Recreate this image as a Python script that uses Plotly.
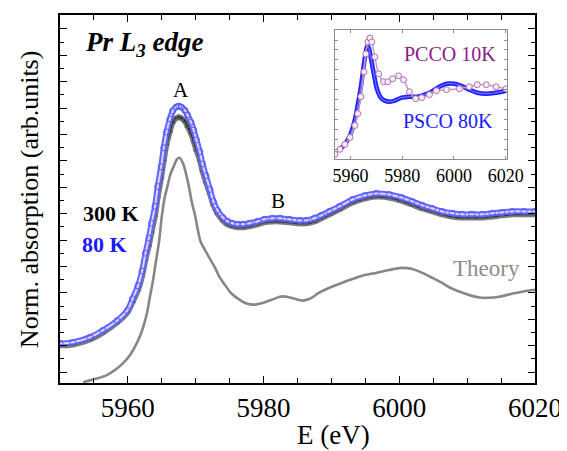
import plotly.graph_objects as go

# ---- main panel data (Pr L3 edge XANES) ----
E_exp = [5950, 5951.9, 5954.4, 5956.3, 5958.4, 5959.9, 5960.7, 5961.5, 5962.1, 5962.6,
         5963.1, 5963.5, 5964.0, 5964.4, 5964.9, 5965.3, 5965.7, 5966.2, 5966.6, 5967.1,
         5967.5, 5967.9, 5968.4, 5968.8, 5969.3, 5969.7, 5970.1, 5970.6, 5971.0, 5971.5,
         5972.1, 5972.6, 5973.2, 5974.0, 5974.7, 5975.4, 5976.2, 5976.9, 5977.9, 5979.1,
         5980.1, 5981.3, 5982.4, 5983.8, 5985.3, 5986.3, 5987.5, 5988.5, 5989.7, 5991.2,
         5993.1, 5994.9, 5996.6, 5998.5, 6000.3, 6001.9, 6003.4, 6004.9, 6006.3, 6007.8,
         6009.3, 6010.7, 6012.2, 6013.7, 6015.1, 6016.6, 6018.4, 6020]
abs_80K = [1.09, 1.13, 1.32, 1.58, 1.95, 2.33, 2.78, 3.27, 3.83, 4.51,
           5.08, 5.64, 6.28, 7.03, 7.78, 8.50, 9.10, 9.59, 9.89, 10.04,
           10.08, 10.04, 9.92, 9.74, 9.47, 9.17, 8.80, 8.35, 7.89, 7.44,
           6.92, 6.47, 6.13, 5.86, 5.71, 5.64, 5.60, 5.60, 5.64, 5.71,
           5.79, 5.83, 5.83, 5.79, 5.75, 5.75, 5.83, 5.94, 6.09, 6.28,
           6.54, 6.69, 6.77, 6.73, 6.62, 6.47, 6.32, 6.20, 6.09, 6.02,
           5.98, 5.98, 5.98, 6.02, 6.05, 6.09, 6.09, 6.09]
abs_300K = [1.02, 1.05, 1.24, 1.50, 1.88, 2.26, 2.67, 3.12, 3.65, 4.29,
            4.81, 5.34, 5.94, 6.65, 7.37, 8.05, 8.65, 9.14, 9.47, 9.62,
            9.66, 9.62, 9.51, 9.32, 9.06, 8.76, 8.42, 8.05, 7.63, 7.22,
            6.77, 6.35, 6.02, 5.75, 5.60, 5.53, 5.49, 5.49, 5.53, 5.60,
            5.68, 5.71, 5.71, 5.68, 5.64, 5.64, 5.71, 5.83, 5.98, 6.17,
            6.43, 6.58, 6.65, 6.62, 6.50, 6.35, 6.20, 6.09, 5.98, 5.90,
            5.86, 5.86, 5.86, 5.90, 5.94, 5.98, 5.98, 5.98]

E_theory = [5953.4, 5955.1, 5956.9, 5958.1, 5959.3, 5960.3, 5961.3, 5962.1, 5962.8, 5963.2,
            5963.7, 5964.1, 5964.6, 5965.0, 5965.4, 5965.9, 5966.3, 5966.8, 5967.2, 5967.6,
            5968.1, 5968.5, 5969.0, 5969.4, 5969.9, 5970.3, 5970.7, 5971.3, 5972.1, 5972.8,
            5973.5, 5974.4, 5975.3, 5976.5, 5977.6, 5978.8, 5980.0, 5981.2, 5982.4, 5983.4,
            5984.6, 5985.7, 5986.8, 5988.2, 5989.7, 5991.2, 5993.1, 5994.9, 5996.6, 5998.5,
            6000.3, 6001.9, 6003.4, 6004.9, 6006.3, 6007.8, 6009.3, 6010.7, 6012.1, 6013.2,
            6014.7, 6016.6, 6018.1, 6020]
abs_theory = [-0.38, -0.26, -0.11, 0.08, 0.34, 0.64, 1.09, 1.58, 2.22, 2.78,
              3.46, 4.14, 4.96, 5.90, 6.58, 7.11, 7.52, 7.82, 8.05, 8.12,
              7.93, 7.59, 7.03, 6.47, 5.94, 5.41, 4.96, 4.66, 4.29, 3.98,
              3.61, 3.27, 2.97, 2.74, 2.59, 2.56, 2.63, 2.74, 2.86, 2.86,
              2.78, 2.71, 2.78, 3.01, 3.20, 3.35, 3.53, 3.68, 3.76, 3.87,
              3.95, 3.91, 3.76, 3.57, 3.38, 3.16, 3.01, 2.89, 2.82, 2.82,
              2.86, 2.97, 3.05, 3.12]

# ---- inset data ----
E_pcco = [5954.0, 5955.9, 5957.8, 5959.8, 5961.7, 5962.8, 5964.0, 5965.2, 5965.9, 5966.7,
          5967.5, 5968.2, 5969.4, 5970.9, 5972.8, 5974.4, 5976.3, 5978.6, 5980.5, 5982.8,
          5985.2, 5987.5, 5990.5, 5993.2, 5997.1, 6002.1, 6005.9, 6009.0, 6012.5, 6016.3, 6020.2]
abs_pcco = [0.5, 1.0, 1.5, 2.2, 3.4, 4.6, 6.3, 8.8, 10.6, 11.8,
            12.2, 11.8, 10.3, 8.6, 7.8, 7.8, 8.1, 8.4, 8.0, 6.8,
            6.1, 6.2, 6.5, 6.9, 7.0, 7.1, 7.3, 7.5, 7.5, 7.3, 7.1]
E_psco = [5955.9, 5957.8, 5959.8, 5961.7, 5962.8, 5964.0, 5965.2, 5965.9, 5966.5, 5967.1,
          5967.8, 5969.0, 5970.2, 5971.7, 5973.2, 5975.2, 5977.1, 5979.8, 5982.8, 5985.9,
          5988.6, 5991.3, 5994.4, 5997.1, 6000.2, 6002.8, 6005.9, 6009.0, 6012.5, 6016.3, 6020.2]
abs_psco = [1.0, 1.5, 2.4, 4.0, 5.5, 7.3, 9.6, 10.8, 11.4, 11.2,
            10.3, 8.6, 7.1, 6.2, 5.9, 5.8, 5.9, 6.2, 6.3, 6.3,
            6.5, 6.8, 7.3, 7.6, 7.6, 7.4, 7.0, 6.7, 6.6, 6.7, 6.9]

x_ticks_main = [5960, 5980, 6000, 6020]
x_ticks_inset = [5960, 5980, 6000, 6020]

SERIF = "Liberation Serif, Times New Roman, Times, serif"
BLUE = "#1a1aff"

fig = go.Figure()

# 300 K (dark, under the blue)
fig.add_trace(go.Scatter(x=E_exp, y=abs_300K, mode="lines", line=dict(color="#7a7a7a", width=6, shape="spline"),
                         hoverinfo="skip", showlegend=False))
fig.add_trace(go.Scatter(x=E_exp, y=abs_300K, mode="lines+markers", line=dict(color="#2a2a2a", width=2, shape="spline"),
                         marker=dict(symbol="triangle-up", size=5, color="#333333", line=dict(color="#777777", width=0.5)),
                         showlegend=False))
# 80 K (blue open circles)
fig.add_trace(go.Scatter(x=E_exp, y=abs_80K, mode="lines", line=dict(color="#6464ff", width=6, shape="spline"),
                         hoverinfo="skip", showlegend=False))
fig.add_trace(go.Scatter(x=E_exp, y=abs_80K, mode="lines", line=dict(color="#d6d6ff", width=2, shape="spline"),
                         hoverinfo="skip", showlegend=False))
fig.add_trace(go.Scatter(x=E_exp, y=abs_80K, mode="markers",
                         marker=dict(symbol="circle-open", size=6, color="#5a5aff", line=dict(width=1)),
                         showlegend=False))
# Theory
fig.add_trace(go.Scatter(x=E_theory, y=abs_theory, mode="lines", line=dict(color="#878787", width=2.6, shape="spline"),
                         showlegend=False))

# Inset
fig.add_trace(go.Scatter(x=E_psco, y=abs_psco, xaxis="x2", yaxis="y2", mode="lines",
                         line=dict(color="#2020ff", width=4.5, shape="spline"), showlegend=False))
fig.add_trace(go.Scatter(x=E_psco, y=abs_psco, xaxis="x2", yaxis="y2", mode="lines",
                         line=dict(color="#7070ff", width=1.2, shape="spline"), showlegend=False))
fig.add_trace(go.Scatter(x=E_pcco, y=abs_pcco, xaxis="x2", yaxis="y2", mode="lines+markers",
                         line=dict(color="#c898c8", width=1.5, shape="spline"),
                         marker=dict(symbol="circle", size=6, color="#f6ecf6", line=dict(color="#b070b0", width=1)),
                         showlegend=False))

axis_common = dict(showgrid=False, zeroline=False, showline=True, linecolor="black", linewidth=1.8,
                   mirror="ticks", ticks="inside", tickcolor="black", tickwidth=1.3)

# page body adds an 8px margin; figure sized/offset to compensate
fig.update_layout(
    width=559, height=443,
    margin=dict(l=52, r=32, t=5, b=68),
    paper_bgcolor="white", plot_bgcolor="white",
    font=dict(family=SERIF, color="black"),
    xaxis=dict(range=[5950, 6020], tickvals=x_ticks_main, ticklen=7,
               tickfont=dict(family=SERIF, size=27, color="black"),
               minor=dict(dtick=5, tick0=5950, ticklen=5, ticks="inside", tickcolor="black", tickwidth=1.3),
               **axis_common),
    yaxis=dict(range=[-0.41, 13.53], tick0=0, dtick=1, ticklen=7, showticklabels=False,
               minor=dict(dtick=0.5, tick0=0, ticklen=4, ticks="inside", tickcolor="black", tickwidth=1.3),
               **axis_common),
    xaxis2=dict(domain=[0.579, 0.941], anchor="y2", range=[5954, 6020.5], tickvals=x_ticks_inset,
                tickfont=dict(family=SERIF, size=18, color="black"),
                showgrid=False, zeroline=False, showline=True, linecolor="#8c8c8c", linewidth=1,
                mirror="ticks", ticks="inside", ticklen=3, tickcolor="#8c8c8c", tickwidth=1),
    yaxis2=dict(domain=[0.608, 0.959], anchor="x2", range=[0, 13], dtick=1, showticklabels=False,
                showgrid=False, zeroline=False, showline=True, linecolor="#8c8c8c", linewidth=1,
                mirror="ticks", ticks="inside", ticklen=3, tickcolor="#8c8c8c", tickwidth=1),
)

ann = []
ann.append(dict(xref="paper", yref="paper", x=0.048, y=0.922, xanchor="left", yanchor="middle",
                text="<b><i>Pr L<sub>3</sub> edge</i></b>", showarrow=False,
                font=dict(family=SERIF, size=27, color="black")))
ann.append(dict(x=5967.9, y=10.68, text="A", showarrow=False, font=dict(family=SERIF, size=21, color="black")))
ann.append(dict(x=5982.1, y=6.47, text="B", showarrow=False, font=dict(family=SERIF, size=21, color="black")))
ann.append(dict(x=5957.5, y=6.02, text="<b>300 K</b>", showarrow=False, font=dict(family=SERIF, size=22, color="black")))
ann.append(dict(x=5956.6, y=4.85, text="<b>80 K</b>", showarrow=False, font=dict(family=SERIF, size=22, color=BLUE)))
ann.append(dict(x=6012.8, y=3.91, text="Theory", showarrow=False, font=dict(family=SERIF, size=23, color="#8c8c8c")))
ann.append(dict(xref="x2", yref="y2", x=5998.6, y=10.6, text="PCCO 10K", showarrow=False,
                font=dict(family=SERIF, size=20, color="#8b1a8b")))
ann.append(dict(xref="x2", yref="y2", x=5997.5, y=3.8, text="PSCO 80K", showarrow=False,
                font=dict(family=SERIF, size=20, color=BLUE)))
ann.append(dict(xref="paper", yref="paper", x=-0.065, y=0.5, xanchor="center", yanchor="middle", textangle=-90,
                text="Norm. absorption (arb.units)", showarrow=False, font=dict(family=SERIF, size=26, color="black")))
ann.append(dict(xref="paper", yref="paper", x=0.575, y=-0.142, xanchor="center", yanchor="middle",
                text="E (eV)", showarrow=False, font=dict(family=SERIF, size=27, color="black")))
fig.update_layout(annotations=ann)

fig.write_html("out.html")
